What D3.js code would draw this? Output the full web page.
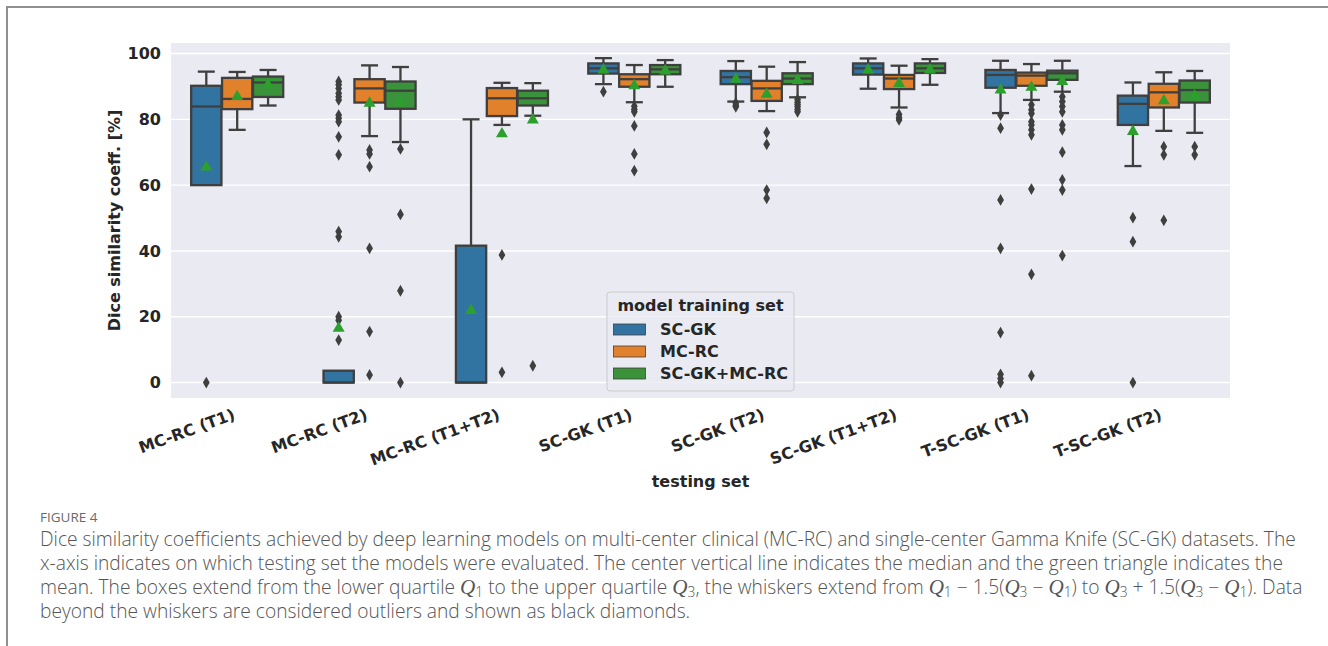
<!DOCTYPE html>
<html>
<head>
<meta charset="utf-8">
<script src="https://cdn.jsdelivr.net/npm/d3@7"></script>
<style>
  body { margin: 0; background: #fff; }
  svg text { font-family: 'DejaVu Sans', sans-serif; }
</style>
</head>
<body>
<div id="chartArea"></div>
<script>
const categories = ['MC-RC (T1)', 'MC-RC (T2)', 'MC-RC (T1+T2)', 'SC-GK (T1)',
  'SC-GK (T2)', 'SC-GK (T1+T2)', 'T-SC-GK (T1)', 'T-SC-GK (T2)']
const trainingSets = ['SC-GK', 'MC-RC', 'SC-GK+MC-RC']
const setColors = ['#3274a1', '#e1812c', '#3a923a']
const yTicks = [0, 20, 40, 60, 80, 100]

// [lower whisker, Q1, median, Q3, upper whisker, mean], one row per testing set
const scgkBoxes = [
  [60.0, 60.0, 83.9, 90.2, 94.5, 65.5],
  [0, 0, 0, 3.6, 3.6, 16.5],
  [0, 0, 0, 41.6, 80.0, 21.9],
  [90.7, 93.9, 95.5, 97.0, 98.6, 95.0],
  [85.4, 90.7, 92.8, 94.7, 97.7, 92.2],
  [89.3, 93.6, 95.5, 97.0, 98.5, 95.0],
  [81.9, 89.6, 93.5, 95.0, 97.8, 88.9],
  [65.8, 78.3, 84.7, 87.2, 91.2, 76.3]
]
const mcrcBoxes = [
  [76.8, 83.1, 86.2, 92.6, 94.4, 86.9],
  [74.9, 85.1, 89.4, 92.2, 96.4, 84.9],
  [78.3, 81.0, 86.4, 89.5, 91.1, 75.6],
  [85.2, 89.9, 92.2, 93.7, 96.5, 90.2],
  [82.5, 85.6, 89.4, 91.7, 96.0, 87.6],
  [83.6, 89.2, 92.4, 93.5, 96.3, 90.9],
  [85.9, 90.2, 93.3, 94.2, 96.8, 89.7],
  [76.5, 83.6, 88.2, 90.8, 94.3, 85.6]
]
const bothBoxes = [
  [84.2, 86.8, 91.2, 93.0, 95.0, 90.5],
  [73.1, 83.2, 88.7, 91.5, 95.9, 85.1],
  [81.1, 84.2, 86.4, 88.7, 91.0, 79.8],
  [89.9, 93.7, 95.2, 96.5, 98.0, 94.7],
  [86.7, 90.7, 92.4, 94.0, 97.4, 91.8],
  [90.5, 94.1, 95.5, 97.0, 98.3, 95.0],
  [88.4, 92.0, 94.0, 94.8, 97.8, 91.5],
  [75.9, 85.1, 88.9, 91.8, 94.7, 87.1]
]

// outliers, one list per testing set
const scgkOutliers = [
  [0],
  [91.5, 90.5, 89.4, 87.9, 86.9, 85.9, 81.3, 80.3, 79.3, 74.7, 69.2, 45.9, 44.3, 20.0, 18.9, 12.9],
  [],
  [88.4],
  [85.0, 84.3, 83.8],
  [],
  [81.3, 77.3, 55.5, 40.8, 15.2, 2.5, 1.2, 0],
  [50.1, 42.8, 0]
]
const mcrcOutliers = [
  [],
  [70.7, 69.5, 65.6, 40.8, 15.5, 2.3],
  [38.8, 3.1],
  [84.0, 83.0, 82.3, 78.0, 69.5, 64.4],
  [76.0, 72.4, 58.5, 56.0],
  [81.5, 80.5, 79.8],
  [84.4, 82.9, 81.8, 79.3, 78.3, 76.8, 75.3, 58.8, 32.9, 2.1],
  [71.7, 69.2, 49.3]
]
const bothOutliers = [
  [],
  [71.0, 51.1, 27.9, 0],
  [5.1],
  [],
  [86.0, 85.2, 84.5, 83.8, 83.0, 82.3],
  [],
  [86.9, 85.4, 83.9, 82.3, 78.3, 76.8, 70.0, 61.6, 58.5, 38.6],
  [71.7, 69.2]
]

const captionLines = [
  'Dice similarity coefficients achieved by deep learning models on multi-center clinical (MC-RC) and single-center Gamma Knife (SC-GK) datasets. The',
  'x-axis indicates on which testing set the models were evaluated. The center vertical line indicates the median and the green triangle indicates the',
  'mean. The boxes extend from the lower quartile Q_1 to the upper quartile Q_3, the whiskers extend from Q_1 \u2212 1.5(Q_3 \u2212 Q_1) to Q_3 + 1.5(Q_3 \u2212 Q_1). Data',
  'beyond the whiskers are considered outliers and shown as black diamonds.'
]

let width = 1328
let height = 646
let plotLeft = 171
let plotRight = 1230
let plotTop = 43
let plotBottom = 398
let lineColor = '#3f3f3f'

let svg = d3.select('#chartArea').append('svg')
  .attr('width', width)
  .attr('height', height)

// page frame
svg.append('path')
  .attr('d', 'M7,' + height + ' L7,7 L' + width + ',7')
  .attr('fill', 'none')
  .attr('stroke', '#909090')
  .attr('stroke-width', 2)

let x = d3.scaleBand()
  .domain(categories)
  .range([plotLeft, plotRight])

let y = d3.scaleLinear()
  .domain([-4.7, 103.2])
  .range([plotBottom, plotTop])

let hue = d3.scaleBand()
  .domain(trainingSets)
  .range([-x.bandwidth() * 0.35, x.bandwidth() * 0.35])

let boxWidth = hue.bandwidth() * 0.98
let capWidth = hue.bandwidth() * 0.55

svg.append('rect')
  .attr('x', plotLeft)
  .attr('y', plotTop)
  .attr('width', plotRight - plotLeft)
  .attr('height', plotBottom - plotTop)
  .attr('fill', '#eaeaf2')

svg.append('g')
  .selectAll('line')
  .data(yTicks)
  .enter()
  .append('line')
  .attr('x1', plotLeft)
  .attr('x2', plotRight)
  .attr('y1', (d) => y(d))
  .attr('y2', (d) => y(d))
  .attr('stroke', '#fff')
  .attr('stroke-width', 1.4)

let yAxis = svg.append('g')
  .attr('transform', 'translate(' + plotLeft + ',0)')
  .call(d3.axisLeft(y).tickValues(yTicks).tickSize(0).tickPadding(10))
yAxis.select('.domain').remove()
yAxis.selectAll('text')
  .attr('font-family', 'DejaVu Sans')
  .attr('font-size', 16)
  .attr('font-weight', 'bold')
  .attr('fill', '#262626')

let xAxis = svg.append('g')
  .attr('transform', 'translate(0,' + plotBottom + ')')
  .call(d3.axisBottom(x).tickSize(0))
xAxis.select('.domain').remove()
xAxis.selectAll('text')
  .attr('x', 0)
  .attr('y', 0)
  .attr('dy', null)
  .attr('transform', 'translate(-1,21) rotate(-20)')
  .attr('text-anchor', 'end')
  .attr('font-family', 'DejaVu Sans')
  .attr('font-size', 16)
  .attr('font-weight', 'bold')
  .attr('fill', '#262626')

svg.append('text')
  .attr('x', (plotLeft + plotRight) / 2)
  .attr('y', 487)
  .attr('text-anchor', 'middle')
  .attr('font-size', 16)
  .attr('font-weight', 'bold')
  .attr('fill', '#262626')
  .text('testing set')

svg.append('text')
  .attr('transform', 'translate(120,' + ((plotTop + plotBottom) / 2) + ') rotate(-90)')
  .attr('text-anchor', 'middle')
  .attr('font-size', 16)
  .attr('font-weight', 'bold')
  .attr('fill', '#262626')
  .text('Dice similarity coeff. [%]')

/**
 * Draws the boxes of one training set over all testing sets.
 * @param boxes - rows of [lower whisker, Q1, median, Q3, upper whisker, mean].
 * @param outliers - outlier values per testing set.
 * @param setIndex - index of the training set.
 */
function drawBoxes(boxes, outliers, setIndex) {
  let g = svg.append('g')
  let color = setColors[setIndex]
  let offset = hue(trainingSets[setIndex]) + hue.bandwidth() / 2

  boxes.forEach((b, i) => {
    let cx = x(categories[i]) + x.bandwidth() / 2 + offset
    let [lo, q1, med, q3, hi, mean] = b

    // whiskers and caps
    let whiskers = [[q3, hi], [q1, lo]]
    whiskers.forEach((w) => {
      if (w[0] === w[1]) return
      g.append('line')
        .attr('x1', cx).attr('x2', cx)
        .attr('y1', y(w[0])).attr('y2', y(w[1]))
        .attr('stroke', lineColor).attr('stroke-width', 2.3)
      g.append('line')
        .attr('x1', cx - capWidth / 2).attr('x2', cx + capWidth / 2)
        .attr('y1', y(w[1])).attr('y2', y(w[1]))
        .attr('stroke', lineColor).attr('stroke-width', 2.3)
    })

    g.append('rect')
      .attr('x', cx - boxWidth / 2)
      .attr('y', y(q3))
      .attr('width', boxWidth)
      .attr('height', y(q1) - y(q3))
      .attr('fill', color)
      .attr('stroke', lineColor)
      .attr('stroke-width', 2.3)

    g.append('line')
      .attr('x1', cx - boxWidth / 2).attr('x2', cx + boxWidth / 2)
      .attr('y1', y(med)).attr('y2', y(med))
      .attr('stroke', lineColor).attr('stroke-width', 2.3)

    g.selectAll(null)
      .data(outliers[i])
      .enter()
      .append('path')
      .attr('d', d3.symbol().type(d3.symbolDiamond).size(40))
      .attr('transform', (d) => 'translate(' + cx + ',' + y(d) + ')')
      .attr('fill', lineColor)

    g.append('path')
      .attr('d', d3.symbol().type(d3.symbolTriangle).size(62))
      .attr('transform', 'translate(' + cx + ',' + y(mean) + ')')
      .attr('fill', '#2ca02c')
  })
}

drawBoxes(scgkBoxes, scgkOutliers, 0)
drawBoxes(mcrcBoxes, mcrcOutliers, 1)
drawBoxes(bothBoxes, bothOutliers, 2)

// legend
let legend = svg.append('g').attr('transform', 'translate(607,292)')
legend.append('rect')
  .attr('width', 187)
  .attr('height', 99)
  .attr('rx', 3)
  .attr('fill', '#eaeaf2')
  .attr('fill-opacity', 0.8)
  .attr('stroke', '#cccccc')
legend.append('text')
  .attr('x', 93.5)
  .attr('y', 19)
  .attr('text-anchor', 'middle')
  .attr('font-size', 16)
  .attr('font-weight', 'bold')
  .attr('fill', '#262626')
  .text('model training set')
trainingSets.forEach((name, i) => {
  legend.append('rect')
    .attr('x', 6.5)
    .attr('y', 32 + i * 22)
    .attr('width', 32)
    .attr('height', 11)
    .attr('fill', setColors[i])
    .attr('stroke', lineColor)
    .attr('stroke-width', 0.8)
  legend.append('text')
    .attr('x', 53)
    .attr('y', 42.5 + i * 22)
    .attr('font-size', 16)
    .attr('font-weight', 'bold')
    .attr('fill', '#262626')
    .text(name)
})

// caption
svg.append('text')
  .attr('x', 40)
  .attr('y', 522)
  .attr('font-size', 13.5)
  .attr('fill', '#6a6a6a')
  .style('font-family', 'Open Sans')
  .text('FIGURE 4')

let captionSize = 16
let caption = svg.append('g')
captionLines.forEach((line, i) => {
  let t = caption.append('text')
    .attr('x', 40)
    .attr('y', 546 + i * 24)
    .attr('fill', '#555')
    .style('font-family', 'Open Sans')
    .style('font-weight', 300)
  let shiftBack = false
  line.split(/(Q_\d)/).forEach((part) => {
    if (/^Q_\d$/.test(part)) {
      let q = t.append('tspan')
        .attr('class', 'q')
        .style('font-family', 'Liberation Serif')
        .style('font-style', 'italic')
        .text('Q')
      if (shiftBack) q.attr('dy', -3)
      t.append('tspan')
        .attr('class', 'sub')
        .attr('dy', 3)
        .text(part[2])
      shiftBack = true
    } else if (part) {
      let s = t.append('tspan').text(part)
      if (shiftBack) s.attr('dy', -3)
      shiftBack = false
    }
  })
})

function sizeCaption(size) {
  caption.selectAll('text').style('font-size', size + 'px')
  caption.selectAll('.q').style('font-size', (size * 1.1) + 'px')
  caption.selectAll('.sub').style('font-size', (size * 0.72) + 'px')
}
sizeCaption(captionSize)
let firstWidth = caption.select('text').node().getComputedTextLength()
sizeCaption(captionSize * 1256 / firstWidth)
</script>
</body>
</html>
